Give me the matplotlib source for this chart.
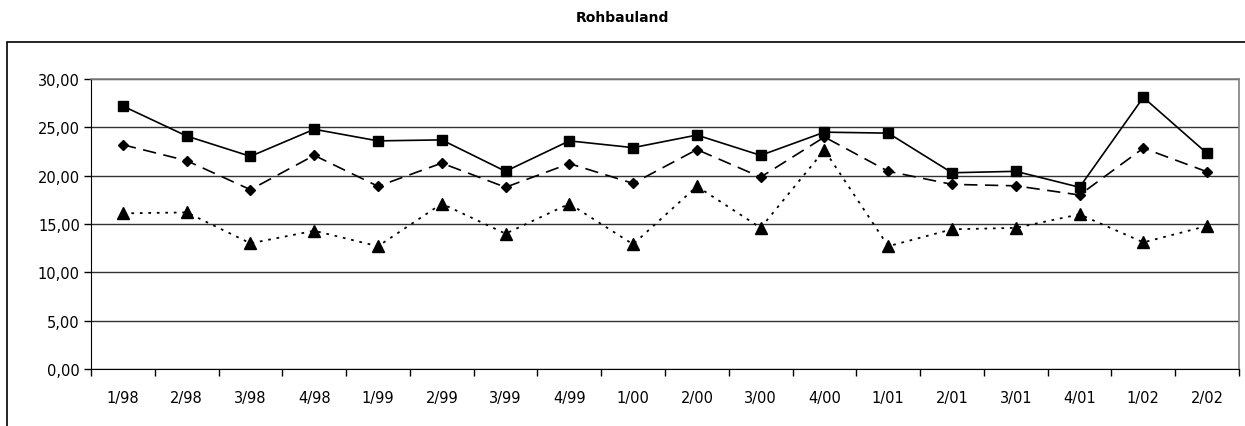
import matplotlib
matplotlib.use('Agg')
from matplotlib import pyplot as plt
from matplotlib.patches import Rectangle
from matplotlib.ticker import FixedLocator, FuncFormatter

# quarters shown on the x axis
quarters = ['1/98', '2/98', '3/98', '4/98', '1/99', '2/99', '3/99', '4/99',
            '1/00', '2/00', '3/00', '4/00', '1/01', '2/01', '3/01', '4/01',
            '1/02', '2/02']

# three series
series_square = [27.2, 24.1, 22.0, 24.8, 23.6, 23.7, 20.45, 23.6, 22.9, 24.2,
                 22.1, 24.5, 24.4, 20.3, 20.45, 18.8, 28.1, 22.3]
series_diamond = [23.2, 21.55, 18.55, 22.1, 18.9, 21.3, 18.8, 21.25, 19.2, 22.7,
                  19.85, 24.0, 20.45, 19.1, 18.95, 18.0, 22.85, 20.4]
series_triangle = [16.1, 16.2, 13.0, 14.3, 12.7, 17.1, 14.0, 17.1, 12.9, 18.9,
                   14.6, 22.65, 12.7, 14.45, 14.6, 16.0, 13.1, 14.8]

y_ticks = [0, 5, 10, 15, 20, 25, 30]

plt.rcParams['font.family'] = ['DejaVu Sans']

fig = plt.figure(figsize=(12.45, 4.27), dpi=100)

# outer chart frame
frame = Rectangle((7 / 1245, -0.05), 1.1, 0.05 + 1 - 43 / 427,
                  transform=fig.transFigure, fill=False, edgecolor='black',
                  linewidth=1.2)
fig.patches.append(frame)

ax = fig.add_axes([91 / 1245, 1 - 370 / 427, 1148 / 1245, 290 / 427])

x = list(range(len(quarters)))
ax.plot(x, series_square, color='black', linewidth=1.2, marker='s',
        markersize=7.5, zorder=3)
ax.plot(x, series_diamond, color='black', linewidth=1.2, marker='D',
        markersize=5.5, dashes=(8, 4.5), zorder=3)
ax.plot(x, series_triangle, color='black', linewidth=1.3, marker='^',
        markersize=8, dashes=(1.5, 3.2), zorder=3)

ax.set_xlim(-0.5, len(quarters) - 0.5)
ax.set_ylim(0, 30)

ax.set_yticks(y_ticks)
ax.yaxis.set_major_formatter(FuncFormatter(lambda v, p: f'{v:.2f}'.replace('.', ',')))
ax.grid(axis='y', color='#333333', linewidth=1.0)
ax.set_axisbelow(True)

ax.set_xticks(x)
ax.set_xticklabels(quarters)
ax.xaxis.set_minor_locator(FixedLocator([i - 0.5 for i in range(len(quarters) + 1)]))
ax.tick_params(axis='x', which='major', length=0, pad=15, labelsize=10.5)
ax.tick_params(axis='x', which='minor', length=5, direction='out', width=1)
ax.tick_params(axis='y', length=5, width=1, labelsize=10.5, pad=3)

for side in ['top', 'right']:
    ax.spines[side].set_color('#808080')
    ax.spines[side].set_linewidth(1.2)
ax.spines['left'].set_color('black')
ax.spines['bottom'].set_color('black')

fig.text(622 / 1245, 1 - 18 / 427, 'Rohbauland', ha='center', va='center',
         fontsize=10, fontweight='bold')

fig.savefig('out.png', dpi=100)
